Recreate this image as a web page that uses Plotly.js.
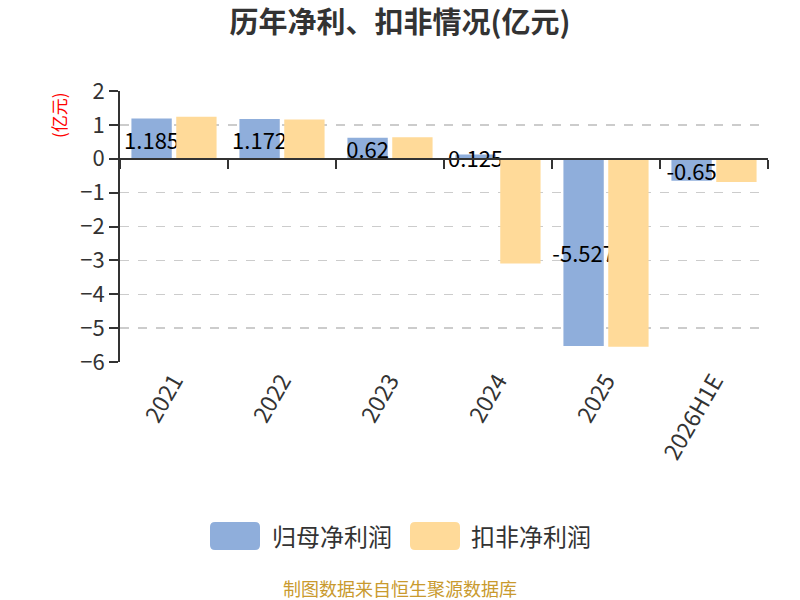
<!DOCTYPE html>
<html>
<head>
<meta charset="utf-8">
<script src="https://cdn.plot.ly/plotly-3.0.1.min.js"></script>
<style>html,body{margin:0;padding:0;background:#fff;}#chart{width:800px;height:600px;}</style>
</head>
<body>
<div id="chart"></div>
<script>
// ---- data ----
const categories = ["2021", "2022", "2023", "2024", "2025", "2026H1E"];
const netProfit = [1.185, 1.172, 0.62, 0.125, -5.527, -0.65];          // 归母净利润
const deductedProfit = [1.24, 1.16, 0.635, -3.09, -5.55, -0.69];       // 扣非净利润
const seriesNames = ["归母净利润", "扣非净利润"];
const yTicks = [-6, -5, -4, -3, -2, -1, 0, 1, 2];
const chartTitle = "历年净利、扣非情况(亿元)";
const unitLabel = "(亿元)";
const sourceNote = "制图数据来自恒生聚源数据库";

// ---- style ----
const FONT = '"Noto Sans CJK SC", "Noto Sans", sans-serif';
const colors = ["#8FAEDB", "#FFDA99"];
const TXT = "#333333";

const boundaries = categories.map((c, i) => i - 0.5).concat([categories.length - 0.5]);

const traces = [
  {
    type: "bar", name: seriesNames[0], x: categories, y: netProfit,
    marker: {color: colors[0]},
    text: netProfit.map(v => String(v)),
    textposition: "inside", insidetextanchor: "middle", textangle: 0,
    constraintext: "none",
    textfont: {family: FONT, size: 22, color: "#000"},
    hoverinfo: "skip", showlegend: false
  },
  {
    type: "bar", name: seriesNames[1], x: categories, y: deductedProfit,
    marker: {color: colors[1]},
    hoverinfo: "skip", showlegend: false
  }
];

// plot area in pixels: left 120, right 768, top 91, bottom 362
const L = 120, R = 768, T = 91, B = 362;
const px = x => (x - L) / (R - L);
const py = y => (B - y) / (B - T);

function rrect(cx, cy, color) {
  return {
    type: "path", xref: "paper", yref: "paper",
    xsizemode: "pixel", ysizemode: "pixel",
    xanchor: px(cx), yanchor: py(cy),
    path: "M-20,-14 H20 Q25,-14 25,-9 V9 Q25,14 20,14 H-20 Q-25,14 -25,9 V-9 Q-25,-14 -20,-14 Z",
    fillcolor: color, line: {width: 0}
  };
}

const layout = {
  width: 800, height: 600,
  margin: {l: L, r: 800 - R, t: T, b: 600 - B, pad: 0},
  paper_bgcolor: "#fff", plot_bgcolor: "#fff",
  font: {family: FONT, color: TXT},
  title: {
    text: "<b>" + chartTitle + "</b>",
    font: {family: FONT, size: 29, color: TXT},
    x: 0.5, xref: "container", xanchor: "center",
    y: 1 - 23 / 600, yref: "container", yanchor: "middle"
  },
  barmode: "group", bargap: 0.17, bargroupgap: 0.1,
  showlegend: false,
  xaxis: {
    type: "category", categoryorder: "array", categoryarray: categories,
    range: [-0.5, categories.length - 0.5],
    showline: false, ticks: "", showgrid: false, zeroline: false,
    tickangle: -60,
    tickfont: {family: FONT, size: 23, color: TXT}
  },
  xaxis2: {
    overlaying: "x", anchor: "free", position: 0.75,
    range: [-0.5, categories.length - 0.5],
    tickmode: "array", tickvals: boundaries,
    showticklabels: false, showgrid: false, zeroline: false,
    showline: true, linecolor: TXT, linewidth: 2,
    ticks: "outside", ticklen: 9, tickwidth: 2, tickcolor: TXT,
    layer: "above traces"
  },
  yaxis: {
    range: [yTicks[0], yTicks[yTicks.length - 1]],
    tickmode: "array", tickvals: yTicks,
    showline: true, linecolor: TXT, linewidth: 2,
    ticks: "outside", ticklen: 9, tickwidth: 2, tickcolor: TXT,
    showgrid: true, gridcolor: "#cccccc", gridwidth: 1.5, griddash: "dash",
    zeroline: false,
    tickfont: {family: FONT, size: 22, color: TXT}
  },
  shapes: [rrect(235, 536, colors[0]), rrect(435, 536, colors[1])],
  annotations: [
    {text: unitLabel, xref: "paper", yref: "paper", x: px(58), y: py(115),
     textangle: -90, showarrow: false, xanchor: "center", yanchor: "middle",
     font: {family: FONT, size: 17, color: "#ff0000"}},
    {text: seriesNames[0], xref: "paper", yref: "paper", x: px(270), y: py(535),
     showarrow: false, xanchor: "left", yanchor: "middle",
     font: {family: FONT, size: 24, color: TXT}},
    {text: seriesNames[1], xref: "paper", yref: "paper", x: px(469), y: py(535),
     showarrow: false, xanchor: "left", yanchor: "middle",
     font: {family: FONT, size: 24, color: TXT}},
    {text: sourceNote, xref: "paper", yref: "paper", x: px(400), y: py(588),
     showarrow: false, xanchor: "center", yanchor: "middle",
     font: {family: FONT, size: 18, color: "#C99A2E"}}
  ]
};

// xaxis2 carries the zero-line ticks; an empty trace makes it render
traces.push({type: "scatter", x: [], y: [], xaxis: "x2", yaxis: "y", hoverinfo: "skip", showlegend: false});

Plotly.newPlot("chart", traces, layout, {staticPlot: true, displayModeBar: false});
</script>
</body>
</html>
